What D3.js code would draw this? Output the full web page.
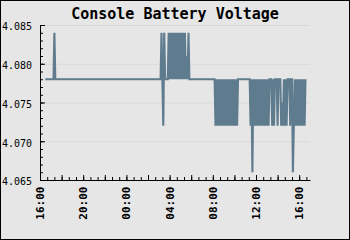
<!DOCTYPE html>
<html><head><meta charset="utf-8">
<script src="https://cdn.jsdelivr.net/npm/d3@7"></script>
<style>html,body{margin:0;padding:0;background:#e6e6e6;} svg{display:block}</style>
</head><body>
<svg id="c" width="350" height="240"></svg>
<script>
const chartTitle = "Console Battery Voltage";
const xTickLabels = ["16:00","20:00","00:00","04:00","08:00","12:00","16:00"];
const yTickLabels = ["4.070","4.075","4.080","4.085"];
const xDomain = ["2024-01-01T16:00:00", "2024-01-02T17:00:00"];
const yDomain = [4.065, 4.085];
const sampleStart = "2024-01-01T16:30:00";
const sampleStepMinutes = 5;
const voltage = [
4.078,4.078,4.078,4.078,4.078,4.078,4.078,4.078,4.078,4.078,
4.084,4.078,4.078,4.078,4.078,4.078,4.078,4.078,4.078,4.078,
4.078,4.078,4.078,4.078,4.078,4.078,4.078,4.078,4.078,4.078,
4.078,4.078,4.078,4.078,4.078,4.078,4.078,4.078,4.078,4.078,
4.078,4.078,4.078,4.078,4.078,4.078,4.078,4.078,4.078,4.078,
4.078,4.078,4.078,4.078,4.078,4.078,4.078,4.078,4.078,4.078,
4.078,4.078,4.078,4.078,4.078,4.078,4.078,4.078,4.078,4.078,
4.078,4.078,4.078,4.078,4.078,4.078,4.078,4.078,4.078,4.078,
4.078,4.078,4.078,4.078,4.078,4.078,4.078,4.078,4.078,4.078,
4.078,4.078,4.078,4.078,4.078,4.078,4.078,4.078,4.078,4.078,
4.078,4.078,4.078,4.078,4.078,4.078,4.078,4.078,4.078,4.078,
4.078,4.078,4.078,4.078,4.078,4.078,4.078,4.078,4.078,4.078,
4.078,4.078,4.078,4.078,4.078,4.078,4.078,4.078,4.078,4.084,
4.078,4.072,4.084,4.078,4.078,4.078,4.078,4.084,4.078,4.084,
4.078,4.084,4.078,4.084,4.078,4.084,4.078,4.084,4.078,4.084,
4.078,4.084,4.078,4.084,4.078,4.084,4.078,4.081,4.078,4.084,
4.078,4.078,4.078,4.078,4.078,4.078,4.078,4.078,4.078,4.078,
4.078,4.078,4.078,4.078,4.078,4.078,4.078,4.078,4.078,4.078,
4.078,4.078,4.078,4.078,4.078,4.078,4.078,4.078,4.078,4.072,
4.078,4.072,4.078,4.072,4.078,4.072,4.078,4.072,4.078,4.072,
4.078,4.072,4.078,4.072,4.078,4.072,4.078,4.072,4.078,4.072,
4.078,4.072,4.078,4.072,4.078,4.078,4.078,4.078,4.078,4.078,
4.078,4.078,4.078,4.078,4.078,4.078,4.078,4.078,4.072,4.078,
4.066,4.078,4.072,4.078,4.072,4.078,4.072,4.078,4.072,4.078,
4.072,4.078,4.072,4.078,4.072,4.078,4.072,4.078,4.072,4.078,
4.078,4.078,4.072,4.078,4.072,4.078,4.078,4.078,4.072,4.078,
4.078,4.078,4.072,4.075,4.072,4.078,4.072,4.078,4.072,4.078,
4.078,4.078,4.072,4.078,4.078,4.066,4.072,4.078,4.072,4.078,
4.072,4.078,4.072,4.078,4.072,4.078,4.072,4.078,4.072,4.078
];

const W = 350, H = 240;
const svg = d3.select("#c");
svg.append("rect").attr("x",0.5).attr("y",0.5).attr("width",W-1).attr("height",H-1)
  .attr("fill","#e6e6e6").attr("stroke","#000").attr("stroke-width",1);

const t0 = new Date(xDomain[0]), t1 = new Date(xDomain[1]);
const x = d3.scaleTime().domain([t0, t1]).range([40, 310]);
const y = d3.scaleLinear().domain(yDomain).range([180, 25]);

const start = new Date(sampleStart);
const data = voltage.map((v, i) => ({t: d3.timeMinute.offset(start, i * sampleStepMinutes), v}));

// grid
const grid = svg.append("g").attr("transform","translate(40,0)")
  .call(d3.axisLeft(y).tickValues(yTickLabels.map(Number)).tickSize(-270).tickFormat(""));
grid.select(".domain").remove();
grid.selectAll("line").attr("stroke","#d8d8d8");

// data line
svg.append("path").datum(data)
  .attr("fill","none").attr("stroke","#5f7b8e").attr("stroke-width",2.1)
  .attr("d", d3.line().x(d => x(d.t)).y(d => y(d.v)));

// y axis minor
const yMinor = svg.append("g").attr("transform","translate(40,0)")
  .call(d3.axisLeft(y).tickValues(y.ticks(20)).tickSizeInner(-3).tickSizeOuter(0).tickFormat(""));
yMinor.selectAll("line").attr("stroke","#000");
yMinor.select(".domain").attr("stroke","#000");

// y axis major with labels
const yMajor = svg.append("g").attr("transform","translate(40,0)")
  .call(d3.axisLeft(y).tickValues([yDomain[0]].concat(yTickLabels.map(Number)))
    .tickSizeInner(-5).tickSizeOuter(0).tickPadding(8).tickFormat(d3.format(".3f")));
yMajor.select(".domain").remove();
yMajor.selectAll("line").attr("stroke","#000");
yMajor.selectAll("text").attr("font-family","DejaVu Sans Mono").attr("font-size",10)
  .attr("fill","#000").attr("dy","0.48em");

// x axis minor
const xMinorTicks = d3.timeMinute.range(t0, d3.timeMinute.offset(t1, 1), 40);
const xMinor = svg.append("g").attr("transform","translate(0,180)")
  .call(d3.axisBottom(x).tickValues(xMinorTicks).tickSizeInner(-3).tickSizeOuter(0).tickFormat(""));
xMinor.selectAll("line").attr("stroke","#000");
xMinor.select(".domain").attr("stroke","#000");

// x axis 2-hour ticks
const xMidTicks = d3.timeHour.range(t0, d3.timeMinute.offset(t1, 1), 2);
const xMid = svg.append("g").attr("transform","translate(0,180)")
  .call(d3.axisBottom(x).tickValues(xMidTicks).tickSizeInner(-5).tickSizeOuter(0).tickFormat(""));
xMid.select(".domain").remove();
xMid.selectAll("line").attr("stroke","#000");

// x labels every 4 hours
const xLabelTicks = d3.timeHour.range(t0, d3.timeMinute.offset(t1, 1), 4);
const xLab = svg.append("g").attr("transform","translate(0,180)")
  .call(d3.axisBottom(x).tickValues(xLabelTicks).tickSize(0).tickFormat((d, i) => xTickLabels[i]));
xLab.select(".domain").remove();
xLab.selectAll("text")
  .attr("font-family","DejaVu Sans Mono").attr("font-weight","bold").attr("font-size",11)
  .attr("fill","#000")
  .attr("transform","rotate(-90)").attr("text-anchor","end")
  .attr("x",-6.5).attr("y",0).attr("dy","0.32em");

// title
svg.append("text").attr("x",175).attr("y",19).attr("text-anchor","middle")
  .attr("font-family","DejaVu Sans Mono").attr("font-weight","bold").attr("font-size",15)
  .attr("fill","#000").text(chartTitle);
</script>
</body></html>
